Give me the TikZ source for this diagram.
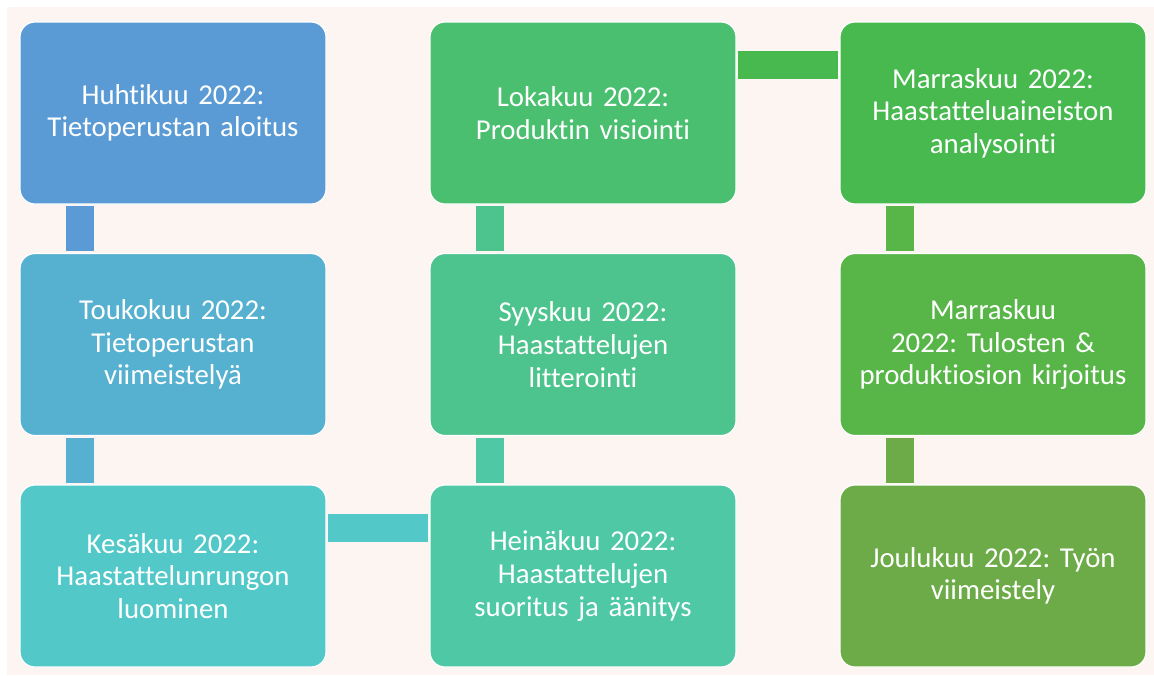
\documentclass[tikz,border=0pt]{standalone}
\usepackage{fontspec}
\setmainfont{Carlito}[Ligatures={NoCommon}, WordSpace=0.8]
\usepackage{tikz}
\frenchspacing

\definecolor{bgpink}{HTML}{FCF5F2}
\definecolor{huhti}{HTML}{5B9BD5}
\definecolor{touko}{HTML}{56B0CF}
\definecolor{kesa}{HTML}{53C8C8}
\definecolor{heina}{HTML}{4FC8A6}
\definecolor{syys}{HTML}{4DC48D}
\definecolor{loka}{HTML}{4ABF6F}
\definecolor{marras}{HTML}{47B94F}
\definecolor{marrasb}{HTML}{58B548}
\definecolor{joulu}{HTML}{6DAB48}

\tikzset{
  phase/.style={rectangle, rounded corners=7.5pt, fill=#1, draw=white, line width=0.6pt,
    minimum width=153pt, minimum height=91pt, text width=145pt, align=center,
    text=white, font=\fontsize{14.4}{16.3}\selectfont, inner sep=0pt},
  link/.style={draw=#1, line width=14pt, shorten <=0.8pt, shorten >=0.8pt}
}

\begin{document}
\begin{tikzpicture}[x=0.5pt, y=-0.5pt]
\useasboundingbox (0,0) rectangle (1154,675);
\fill[white] (0,0) rectangle (1154,675);
\fill[bgpink] (7,7) rectangle (1154,675);

% first column
\node[phase=huhti] (huhtikuu) at (173,113) {Huhtikuu 2022:\\Tietoperustan aloitus};
\node[phase=touko] (toukokuu) at (173,344.5) {Toukokuu 2022:\\Tietoperustan\\viimeistelyä};
\node[phase=kesa] (kesakuu) at (173,576) {Kesäkuu 2022:\\Haastattelunrungon\\luominen};

% second column
\node[phase=heina] (heinakuu) at (583,576) {Heinäkuu 2022:\\Haastattelujen\\suoritus ja äänitys};
\node[phase=syys] (syyskuu) at (583,344.5) {Syyskuu 2022:\\Haastattelujen\\litterointi};
\node[phase=loka] (lokakuu) at (583,113) {Lokakuu 2022:\\Produktin visiointi};

% third column
\node[phase=marras] (marraskuu) at (993,113) {Marraskuu 2022:\\Haastatteluaineiston\\analysointi};
\node[phase=marrasb] (marraskuub) at (993,344.5) {Marraskuu\\2022: Tulosten \&\\produktiosion kirjoitus};
\node[phase=joulu] (joulukuu) at (993,576) {Joulukuu 2022: Työn\\viimeistely};

% connectors
\draw[link=huhti] ([xshift=30.5pt]huhtikuu.south west) -- ([xshift=30.5pt]toukokuu.north west);
\draw[link=touko] ([xshift=30.5pt]toukokuu.south west) -- ([xshift=30.5pt]kesakuu.north west);
\draw[link=kesa] ([yshift=-22pt]kesakuu.north east) -- ([yshift=-22pt]heinakuu.north west);
\draw[link=heina] ([xshift=30.5pt]heinakuu.north west) -- ([xshift=30.5pt]syyskuu.south west);
\draw[link=syys] ([xshift=30.5pt]syyskuu.north west) -- ([xshift=30.5pt]lokakuu.south west);
\draw[link=marras] ([yshift=-22pt]lokakuu.north east) -- ([yshift=-22pt]marraskuu.north west);
\draw[link=marrasb] ([xshift=30.5pt]marraskuu.south west) -- ([xshift=30.5pt]marraskuub.north west);
\draw[link=joulu] ([xshift=30.5pt]marraskuub.south west) -- ([xshift=30.5pt]joulukuu.north west);
\end{tikzpicture}
\end{document}
